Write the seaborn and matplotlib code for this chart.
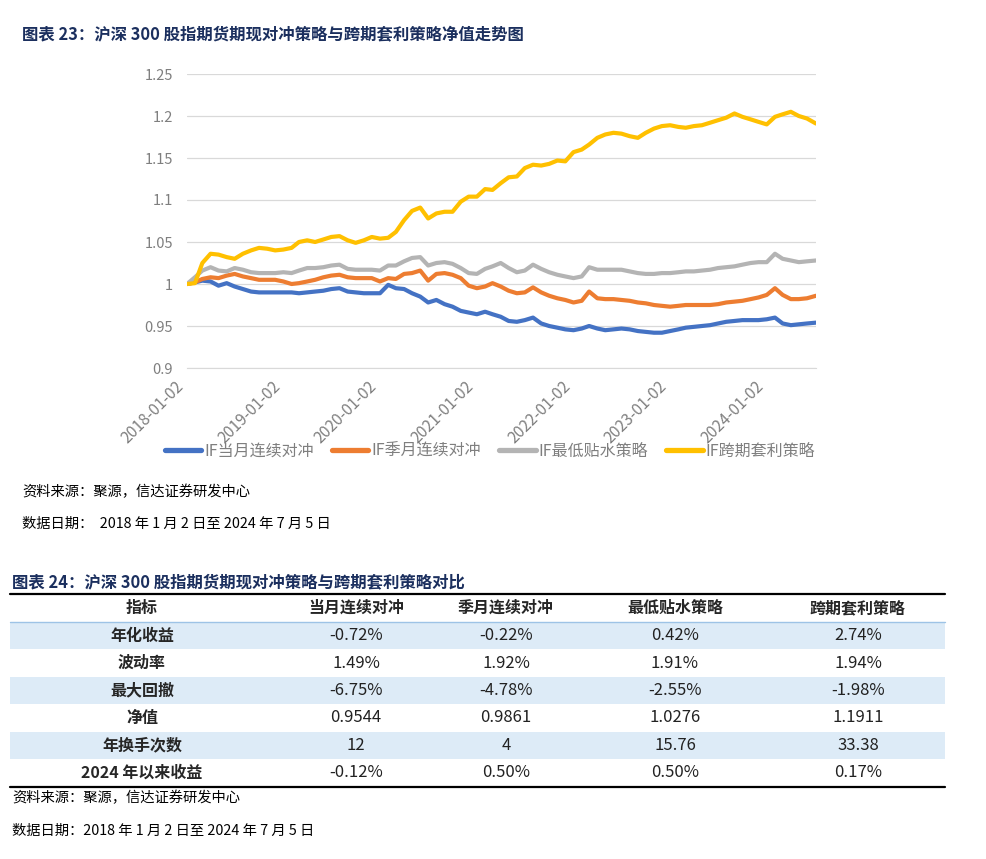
import pandas as pd
import matplotlib.pyplot as plt
import matplotlib.dates as mdates
from matplotlib.ticker import FuncFormatter
from matplotlib.patches import Rectangle
import seaborn as sns


# ---- chart data (net value, roughly monthly) ----
start_date = pd.Timestamp("2018-01-02")
end_date = pd.Timestamp("2024-07-05")
month_dates = list(pd.date_range("2018-02-01", "2024-06-01", freq="MS"))
dates = [start_date] + month_dates + [end_date]

series_names = ["IF当月连续对冲", "IF季月连续对冲", "IF最低贴水策略", "IF跨期套利策略"]
series_colors = ["#4472C4", "#ED7D31", "#B4B4B4", "#FFC000"]

nav_month = [
    1.000, 1.002, 1.004, 1.003, 0.998, 1.001, 0.997, 0.994, 0.991, 0.990, 0.990, 0.990,
    0.990, 0.990, 0.989, 0.990, 0.991, 0.992, 0.994, 0.995, 0.991, 0.990, 0.989, 0.989,
    0.989, 0.999, 0.995, 0.994, 0.989, 0.985, 0.978, 0.981, 0.976, 0.973, 0.968, 0.966,
    0.964, 0.967, 0.964, 0.961, 0.956, 0.955, 0.957, 0.960, 0.953, 0.950, 0.948, 0.946,
    0.945, 0.947, 0.950, 0.947, 0.945, 0.946, 0.947, 0.946, 0.944, 0.943, 0.942, 0.942,
    0.944, 0.946, 0.948, 0.949, 0.950, 0.951, 0.953, 0.955, 0.956, 0.957, 0.957, 0.957,
    0.958, 0.960, 0.953, 0.951, 0.952, 0.953, 0.954,
]
nav_quarter = [
    1.000, 1.002, 1.006, 1.008, 1.007, 1.010, 1.012, 1.009, 1.007, 1.005, 1.005, 1.005,
    1.003, 1.000, 1.001, 1.003, 1.005, 1.008, 1.010, 1.011, 1.008, 1.007, 1.007, 1.007,
    1.003, 1.007, 1.006, 1.012, 1.013, 1.016, 1.004, 1.012, 1.013, 1.011, 1.007, 0.998,
    0.995, 0.997, 1.001, 0.997, 0.992, 0.989, 0.990, 0.996, 0.990, 0.986, 0.983, 0.981,
    0.978, 0.980, 0.991, 0.983, 0.982, 0.982, 0.981, 0.980, 0.978, 0.977, 0.975, 0.974,
    0.973, 0.974, 0.975, 0.975, 0.975, 0.975, 0.976, 0.978, 0.979, 0.980, 0.982, 0.984,
    0.987, 0.995, 0.987, 0.982, 0.982, 0.983, 0.986,
]
nav_min_basis = [
    1.000, 1.008, 1.016, 1.020, 1.016, 1.015, 1.019, 1.017, 1.014, 1.013, 1.013, 1.013,
    1.014, 1.013, 1.016, 1.019, 1.019, 1.020, 1.022, 1.023, 1.018, 1.017, 1.017, 1.017,
    1.016, 1.022, 1.022, 1.027, 1.031, 1.032, 1.022, 1.025, 1.026, 1.024, 1.019, 1.013,
    1.012, 1.018, 1.021, 1.025, 1.019, 1.014, 1.016, 1.023, 1.018, 1.014, 1.011, 1.009,
    1.007, 1.009, 1.020, 1.017, 1.017, 1.017, 1.017, 1.015, 1.013, 1.012, 1.012, 1.013,
    1.013, 1.014, 1.015, 1.015, 1.016, 1.017, 1.019, 1.020, 1.021, 1.023, 1.025, 1.026,
    1.026, 1.036, 1.030, 1.028, 1.026, 1.027, 1.028,
]
nav_calendar = [
    1.000, 1.001, 1.025, 1.036, 1.035, 1.032, 1.030, 1.036, 1.040, 1.043, 1.042, 1.040,
    1.041, 1.043, 1.050, 1.052, 1.050, 1.053, 1.056, 1.057, 1.052, 1.049, 1.052, 1.056,
    1.054, 1.055, 1.062, 1.076, 1.087, 1.091, 1.078, 1.084, 1.086, 1.086, 1.098, 1.104,
    1.104, 1.113, 1.112, 1.120, 1.127, 1.128, 1.138, 1.142, 1.141, 1.143, 1.147, 1.146,
    1.157, 1.160, 1.166, 1.174, 1.178, 1.180, 1.179, 1.176, 1.174, 1.180, 1.185, 1.188,
    1.189, 1.187, 1.186, 1.188, 1.189, 1.192, 1.195, 1.198, 1.203, 1.199, 1.196, 1.193,
    1.190, 1.199, 1.202, 1.205, 1.200, 1.197, 1.191,
]

tick_dates = ["2018-01-02", "2019-01-02", "2020-01-02", "2021-01-02",
              "2022-01-02", "2023-01-02", "2024-01-02"]
y_ticks = [0.9, 0.95, 1.0, 1.05, 1.1, 1.15, 1.2, 1.25]

# ---- table data ----
table_header = ["指标", "当月连续对冲", "季月连续对冲", "最低贴水策略", "跨期套利策略"]
row_labels = ["年化收益", "波动率", "最大回撤", "净值", "年换手次数", "2024 年以来收益"]
col_month = ["-0.72%", "1.49%", "-6.75%", "0.9544", "12", "-0.12%"]
col_quarter = ["-0.22%", "1.92%", "-4.78%", "0.9861", "4", "0.50%"]
col_min_basis = ["0.42%", "1.91%", "-2.55%", "1.0276", "15.76", "0.50%"]
col_calendar = ["2.74%", "1.94%", "-1.98%", "1.1911", "33.38", "0.17%"]

chart_title = "图表 23：沪深 300 股指期货期现对冲策略与跨期套利策略净值走势图"
table_title = "图表 24：沪深 300 股指期货期现对冲策略与跨期套利策略对比"
source_text = "资料来源：聚源，信达证券研发中心"
date_text = "数据日期：  2018 年 1 月 2 日至 2024 年 7 月 5 日"

data = pd.concat([
    pd.DataFrame({"date": dates, "nav": values, "strategy": name})
    for name, values in zip(series_names, [nav_month, nav_quarter, nav_min_basis, nav_calendar])
])

sns.set_style("white")
plt.rcParams["font.family"] = ["Noto Sans CJK SC", "DejaVu Sans"]
plt.rcParams["axes.unicode_minus"] = False

W, H = 986, 859
fig = plt.figure(figsize=(W / 100, H / 100), dpi=100)

# page-level axes in pixel coordinates for titles, notes and the table
page = fig.add_axes([0, 0, 1, 1], zorder=0)
page.set_xlim(0, W)
page.set_ylim(H, 0)
page.axis("off")

navy = "#1b2f5e"
page.text(22, 34, chart_title, fontsize=11.8, fontweight="bold", color=navy, va="center")
page.text(22, 492, source_text, fontsize=10.3, color="black", va="center")
page.text(22, 524, date_text, fontsize=10.3, color="black", va="center")

# ---- line chart ----
ax_left, ax_right, ax_top, ax_bottom = 187, 816, 74, 368
ax = fig.add_axes([ax_left / W, 1 - ax_bottom / H, (ax_right - ax_left) / W, (ax_bottom - ax_top) / H], zorder=1)
ax.patch.set_alpha(0)

sns.lineplot(data=data, x="date", y="nav", hue="strategy", hue_order=series_names,
             palette=series_colors, linewidth=3.0, ax=ax)

ax.set_xlim(start_date, end_date)
ax.set_ylim(0.9, 1.25)
ax.set_yticks(y_ticks)
ax.yaxis.set_major_formatter(FuncFormatter(lambda v, p: f"{v:g}"))
ax.set_xticks(pd.to_datetime(tick_dates))
ax.xaxis.set_major_formatter(mdates.DateFormatter("%Y-%m-%d"))
ax.grid(axis="y", color="#D9D9D9", linewidth=0.9)
ax.grid(axis="x", visible=False)
for side in ["top", "right", "left"]:
    ax.spines[side].set_visible(False)
ax.spines["bottom"].set_color("#D9D9D9")
ax.tick_params(axis="y", length=0, pad=10, labelsize=10.5, labelcolor="#7F7F7F")
ax.tick_params(axis="x", length=4, width=0.9, color="#D9D9D9", pad=3, labelsize=11.3, labelcolor="#7F7F7F")
for label in ax.get_xticklabels():
    label.set_rotation(45)
    label.set_ha("right")
ax.set_xlabel("")
ax.set_ylabel("")

leg_x = (490 - ax_left) / (ax_right - ax_left)
leg_y = (ax_bottom - 451) / (ax_bottom - ax_top)
sns.move_legend(ax, "center", bbox_to_anchor=(leg_x, leg_y), ncol=4, frameon=False, title=None,
                fontsize=11.5, handlelength=2.3, handletextpad=0.2, columnspacing=1.1)
leg = ax.get_legend()
for line in leg.get_lines():
    line.set_linewidth(3.8)
for text in leg.get_texts():
    text.set_color("#7F7F7F")

# ---- table ----
page.text(12, 582, table_title, fontsize=11.8, fontweight="bold", color=navy, va="center")

tbl_left, tbl_right = 10, 945
header_top, header_bottom = 594, 622
row_h = 27.4
col_centers = [142, 356, 506, 675, 858]
columns = [col_month, col_quarter, col_min_basis, col_calendar]

page.plot([tbl_left, tbl_right], [header_top, header_top], color="black", linewidth=1.6)
for j, head in enumerate(table_header):
    page.text(col_centers[j], (header_top + header_bottom) / 2, head, fontsize=11.5,
              fontweight="bold", ha="center", va="center")

for i, label in enumerate(row_labels):
    y0 = header_bottom + i * row_h
    if i % 2 == 0:
        page.add_patch(Rectangle((tbl_left, y0), tbl_right - tbl_left, row_h,
                                 facecolor="#DDEBF7", edgecolor="none"))
    yc = y0 + row_h / 2
    page.text(col_centers[0], yc, label, fontsize=11.5, fontweight="bold", ha="center", va="center")
    for j, col in enumerate(columns):
        page.text(col_centers[j + 1], yc, col[i], fontsize=12, ha="center", va="center", color="#222222")

page.plot([tbl_left, tbl_right], [header_bottom, header_bottom], color="#9DC3E6", linewidth=1.0)
table_bottom = header_bottom + len(row_labels) * row_h + 1
page.plot([tbl_left, tbl_right], [table_bottom, table_bottom], color="black", linewidth=1.6)

page.text(12, 798, source_text, fontsize=10.3, color="black", va="center")
page.text(12, 831, date_text.replace("：  ", "："), fontsize=10.3, color="black", va="center")

plt.savefig("out.png", dpi=100)
plt.close()
